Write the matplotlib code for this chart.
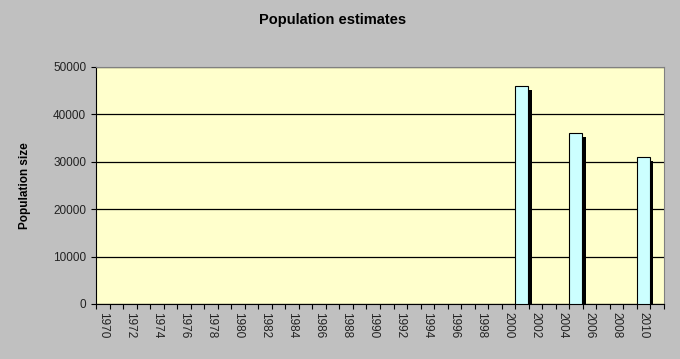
import numpy as np
import matplotlib.pyplot as plt
import matplotlib.patheffects as pe

plt.rcParams['font.family'] = ['Liberation Sans', 'DejaVu Sans']

years = list(range(1970, 2012))
survey_years = [2001, 2005, 2010]
population = [46000, 36000, 31000]

fig = plt.figure(figsize=(6.8, 3.59), dpi=100, facecolor='#c0c0c0')
ax = fig.add_axes([96/680, 1 - 304/359, 568/680, 237/359])
ax.set_facecolor('#ffffcc')

idx = [years.index(y) for y in survey_years]
ax.bar(idx, population, width=0.93, align='edge', color='#ccffff', edgecolor='black',
       linewidth=0.8, zorder=3,
       path_effects=[pe.SimplePatchShadow(offset=(2.8, -2.8), shadow_rgbFace='black', alpha=1.0),
                     pe.Normal()])

ax.set_xlim(0, len(years))
ax.set_ylim(0, 50000)
ax.set_yticks(np.arange(0, 50001, 10000))
ax.yaxis.grid(True, color='black', linewidth=0.9, zorder=1)
ax.set_axisbelow(True)

# labels every second year, ticks at category boundaries
lab_pos = [i + 0.5 for i in range(0, len(years), 2)]
ax.set_xticks(lab_pos)
ax.set_xticklabels([str(years[i]) for i in range(0, len(years), 2)], rotation=270,
                   fontsize=8.5, color='#222222')
ax.set_xticks(np.arange(0, len(years) + 1), minor=True)
ax.tick_params(axis='x', which='major', length=0, pad=6)
ax.tick_params(axis='x', which='minor', length=3.5, width=0.8, direction='out')
ax.tick_params(axis='y', length=3.5, width=0.8, labelsize=8.5, labelcolor='#222222')

for s in ['top', 'right']:
    ax.spines[s].set_color('#808080')
for s in ['left', 'bottom']:
    ax.spines[s].set_color('black')

ax.set_ylabel('Population size', fontsize=8.5, fontweight='bold', labelpad=16)
fig.text(333/680, 1 - 20/359, 'Population estimates', ha='center', va='center',
         fontsize=10.5, fontweight='bold')

fig.savefig('out.png', dpi=100, facecolor=fig.get_facecolor())
